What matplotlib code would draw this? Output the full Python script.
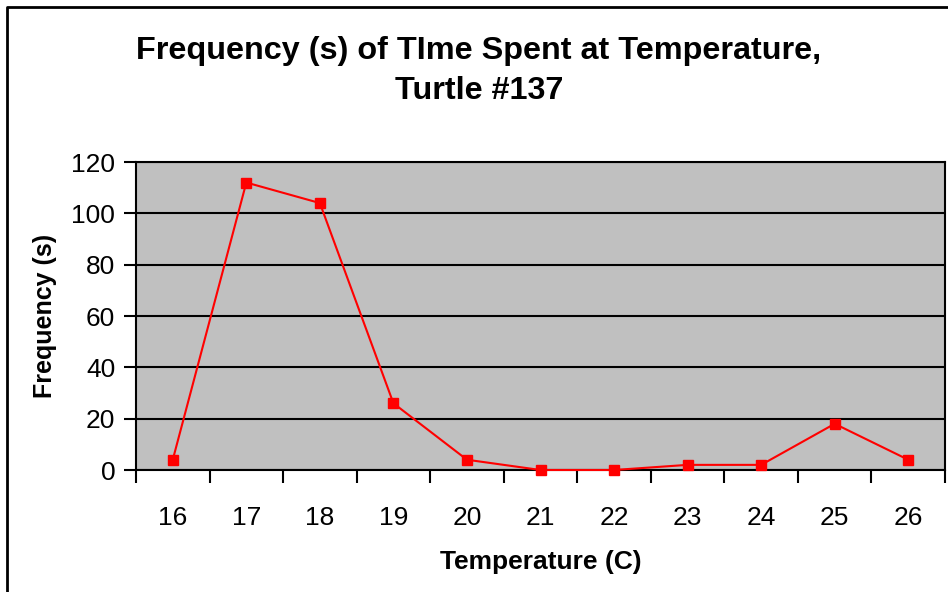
import matplotlib
matplotlib.use("Agg")
from matplotlib import pyplot as plt
from matplotlib.lines import Line2D
import numpy as np

temps = ["16", "17", "18", "19", "20", "21", "22", "23", "24", "25", "26"]
freq = [4, 112, 104, 26, 4, 0, 0, 2, 2, 18, 4]

plt.rcParams['font.family'] = ['Liberation Sans', 'DejaVu Sans']

W, H = 948, 592
fig = plt.figure(figsize=(W / 100, H / 100), dpi=100)

# plot area in pixel coords of the reference
left, right, top, bottom = 136, 945, 162, 470
ax = fig.add_axes([left / W, 1 - bottom / H, (right - left) / W, (bottom - top) / H])
ax.set_facecolor('#C0C0C0')

x = np.arange(len(temps))
ax.plot(x, freq, color='#FF0000', lw=1.5, marker='s', markersize=7.5, clip_on=False, zorder=3)

ax.set_xlim(-0.5, len(temps) - 0.5)
ax.set_ylim(0, 120)
ax.set_yticks(np.arange(0, 121, 20))
ax.yaxis.grid(True, color='black', lw=1.5)
ax.set_axisbelow(True)

# categories sit between tick marks, like Excel
ax.set_xticks(np.arange(-0.5, len(temps), 1.0))
ax.set_xticklabels([])
ax.set_xticks(x, minor=True)
ax.set_xticklabels(temps, minor=True, fontsize=19)
ax.tick_params(axis='x', which='minor', length=0, pad=26)
ax.tick_params(axis='x', which='major', length=9, width=1.5, direction='out')
ax.tick_params(axis='y', length=9, width=1.5, direction='out', labelsize=19, pad=6)

for s in ax.spines.values():
    s.set_linewidth(1.5)
    s.set_color('black')

ax.set_xlabel('Temperature (C)', fontsize=19, fontweight='bold', labelpad=14)
ax.set_ylabel('Frequency (s)', fontsize=18, fontweight='bold', labelpad=10)

fig.text(0.505, 1 - 71 / H, 'Frequency (s) of TIme Spent at Temperature,\nTurtle #137',
         ha='center', va='center', fontsize=23.3, fontweight='bold', linespacing=1.42)

# outer chart frame (only left and top edges visible in the crop)
fig.add_artist(Line2D([7 / W, 7 / W, 1.0], [0.0, 1 - 7 / H, 1 - 7 / H],
                      transform=fig.transFigure, color='black', lw=2))

fig.savefig('out.png', dpi=100)
